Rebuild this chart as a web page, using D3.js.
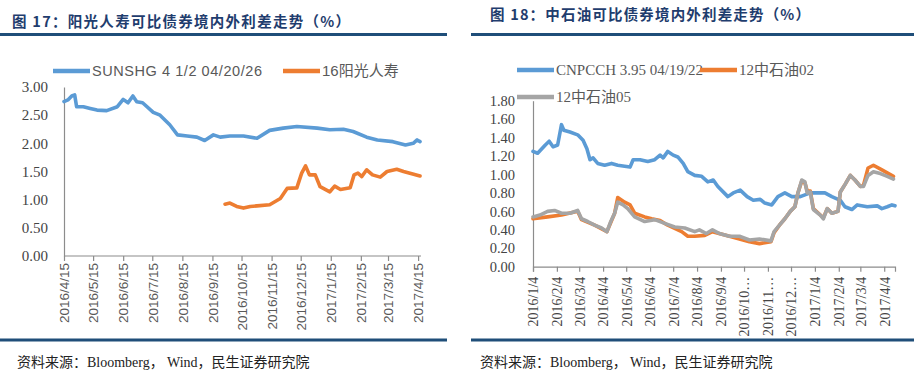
<!DOCTYPE html>
<html><head><meta charset="utf-8">
<script src="https://cdn.jsdelivr.net/npm/d3@7"></script>
<style>
html,body{margin:0;padding:0;background:#fff;}
svg{display:block;}
</style></head>
<body>
<svg id="c" width="914" height="375"></svg>
<script>
// ---------- Data: left chart (图17) ----------
const titleL = "图 17：阳光人寿可比债券境内外利差走势（%）";
const titleR = "图 18：中石油可比债券境内外利差走势（%）";
const sourceText = "资料来源：Bloomberg， Wind，民生证券研究院";

const yTicksL = [0, 0.5, 1, 1.5, 2, 2.5, 3];
const xLabelsL = ["2016/4/15","2016/5/15","2016/6/15","2016/7/15","2016/8/15","2016/9/15","2016/10/15","2016/11/15","2016/12/15","2017/1/15","2017/2/15","2017/3/15","2017/4/15"];
const seriesNamesL = ["SUNSHG 4 1/2 04/20/26", "16阳光人寿"];

const sunshg = [
 ["2016-04-15",2.74],["2016-04-19",2.77],["2016-04-23",2.84],["2016-04-26",2.86],["2016-04-28",2.65],
 ["2016-05-05",2.65],["2016-05-12",2.62],["2016-05-19",2.59],["2016-05-29",2.58],["2016-06-09",2.65],
 ["2016-06-15",2.78],["2016-06-20",2.72],["2016-06-25",2.84],["2016-06-29",2.74],["2016-07-05",2.72],
 ["2016-07-16",2.55],["2016-07-23",2.50],["2016-08-02",2.33],["2016-08-10",2.15],["2016-08-20",2.13],
 ["2016-08-30",2.11],["2016-09-07",2.05],["2016-09-16",2.15],["2016-09-23",2.11],["2016-10-03",2.13],
 ["2016-10-17",2.13],["2016-10-31",2.09],["2016-11-13",2.23],["2016-11-27",2.27],["2016-12-11",2.30],
 ["2017-01-01",2.27],["2017-01-14",2.24],["2017-01-28",2.25],["2017-02-07",2.21],["2017-02-21",2.11],
 ["2017-03-04",2.06],["2017-03-20",2.03],["2017-04-02",1.97],["2017-04-10",2.00],["2017-04-14",2.06],
 ["2017-04-17",2.03]
];
const sunlife16 = [
 ["2016-09-28",0.92],["2016-10-03",0.94],["2016-10-10",0.88],["2016-10-17",0.85],["2016-10-24",0.88],
 ["2016-10-31",0.89],["2016-11-13",0.91],["2016-11-24",1.02],["2016-12-01",1.20],["2016-12-11",1.21],
 ["2016-12-16",1.47],["2016-12-20",1.60],["2016-12-24",1.44],["2016-12-30",1.44],["2017-01-04",1.23],
 ["2017-01-14",1.14],["2017-01-19",1.24],["2017-01-25",1.18],["2017-02-04",1.21],["2017-02-08",1.44],
 ["2017-02-12",1.47],["2017-02-16",1.41],["2017-02-21",1.53],["2017-02-27",1.44],["2017-03-07",1.40],
 ["2017-03-14",1.50],["2017-03-24",1.54],["2017-03-31",1.50],["2017-04-17",1.42]
];

// ---------- Data: right chart (图18) ----------
const yTicksR = [0, 0.2, 0.4, 0.6, 0.8, 1.0, 1.2, 1.4, 1.6, 1.8];
const xTickDatesR = ["2016-01-04","2016-02-04","2016-03-04","2016-04-04","2016-05-04","2016-06-04","2016-07-04","2016-08-04","2016-09-04","2016-10-04","2016-11-04","2016-12-04","2017-01-04","2017-02-04","2017-03-04","2017-04-04"];
const xLabelsR = ["2016/1/4","2016/2/4","2016/3/4","2016/4/4","2016/5/4","2016/6/4","2016/7/4","2016/8/4","2016/9/4","2016/10…","2016/11…","2016/12…","2017/1/4","2017/2/4","2017/3/4","2017/4/4"];
const seriesNamesR = ["CNPCCH 3.95 04/19/22", "12中石油02", "12中石油05"];

const cnpcch = [
 ["2016-01-04",1.25],["2016-01-10",1.23],["2016-01-20",1.32],["2016-01-25",1.36],["2016-01-30",1.30],
 ["2016-02-05",1.32],["2016-02-10",1.54],["2016-02-13",1.48],["2016-02-21",1.46],["2016-03-02",1.43],
 ["2016-03-09",1.37],["2016-03-14",1.28],["2016-03-18",1.16],["2016-03-22",1.18],["2016-03-28",1.12],
 ["2016-04-06",1.10],["2016-04-15",1.12],["2016-04-23",1.10],["2016-05-02",1.09],["2016-05-09",1.08],
 ["2016-05-13",1.16],["2016-05-22",1.16],["2016-06-01",1.14],["2016-06-10",1.16],["2016-06-17",1.21],
 ["2016-06-21",1.18],["2016-06-27",1.25],["2016-07-04",1.21],["2016-07-10",1.19],["2016-07-17",1.12],
 ["2016-07-23",1.03],["2016-08-01",0.99],["2016-08-10",0.98],["2016-08-18",0.92],["2016-08-25",0.94],
 ["2016-08-31",0.87],["2016-09-13",0.76],["2016-09-20",0.80],["2016-09-29",0.83],["2016-10-08",0.76],
 ["2016-10-16",0.72],["2016-10-25",0.73],["2016-10-31",0.69],["2016-11-09",0.67],["2016-11-17",0.76],
 ["2016-11-26",0.80],["2016-12-05",0.76],["2016-12-16",0.76],["2016-12-29",0.80],["2017-01-08",0.80],
 ["2017-01-17",0.80],["2017-01-26",0.76],["2017-02-06",0.72],["2017-02-12",0.65],["2017-02-21",0.62],
 ["2017-02-28",0.67],["2017-03-13",0.65],["2017-03-26",0.66],["2017-04-01",0.63],["2017-04-08",0.65],
 ["2017-04-14",0.67],["2017-04-18",0.66]
];
const cnpc02 = [
 ["2016-01-04",0.52],["2016-01-23",0.54],["2016-02-10",0.56],["2016-03-02",0.60],["2016-03-07",0.51],
 ["2016-03-24",0.45],["2016-04-09",0.38],["2016-04-19",0.58],["2016-04-23",0.75],["2016-05-02",0.70],
 ["2016-05-09",0.67],["2016-05-15",0.58],["2016-05-28",0.54],["2016-06-06",0.52],["2016-06-17",0.50],
 ["2016-06-27",0.45],["2016-07-15",0.38],["2016-07-23",0.33],["2016-08-01",0.33],["2016-08-14",0.34],
 ["2016-08-24",0.38],["2016-09-15",0.33],["2016-10-11",0.27],["2016-10-24",0.25],["2016-11-08",0.27],
 ["2016-11-12",0.37],["2016-11-19",0.45],["2016-11-26",0.52],["2016-12-03",0.60],["2016-12-09",0.65],
 ["2016-12-13",0.80],["2016-12-18",0.93],["2016-12-22",0.91],["2016-12-25",0.82],["2016-12-29",0.82],
 ["2017-01-02",0.63],["2017-01-11",0.56],["2017-01-15",0.53],["2017-01-20",0.63],["2017-01-26",0.58],
 ["2017-02-03",0.60],["2017-02-06",0.81],["2017-02-12",0.89],["2017-02-19",0.99],["2017-02-25",0.94],
 ["2017-03-04",0.87],["2017-03-08",0.88],["2017-03-14",1.07],["2017-03-21",1.10],["2017-04-01",1.05],
 ["2017-04-16",0.98]
];
const cnpc05 = [
 ["2016-01-04",0.54],["2016-01-13",0.56],["2016-01-23",0.60],["2016-02-01",0.61],["2016-02-10",0.58],
 ["2016-02-21",0.58],["2016-03-02",0.61],["2016-03-07",0.52],["2016-03-15",0.49],["2016-03-24",0.45],
 ["2016-04-02",0.42],["2016-04-09",0.38],["2016-04-14",0.49],["2016-04-19",0.58],["2016-04-23",0.70],
 ["2016-04-30",0.67],["2016-05-06",0.63],["2016-05-15",0.54],["2016-05-28",0.49],["2016-06-10",0.51],
 ["2016-06-23",0.47],["2016-07-06",0.43],["2016-07-19",0.42],["2016-08-01",0.38],["2016-08-07",0.40],
 ["2016-08-16",0.36],["2016-08-24",0.40],["2016-09-02",0.36],["2016-09-15",0.33],["2016-09-28",0.33],
 ["2016-10-11",0.29],["2016-10-24",0.30],["2016-11-08",0.28],["2016-11-12",0.38],["2016-11-19",0.45],
 ["2016-11-26",0.52],["2016-12-03",0.60],["2016-12-09",0.65],["2016-12-13",0.80],["2016-12-18",0.94],
 ["2016-12-22",0.92],["2016-12-25",0.80],["2016-12-29",0.81],["2017-01-02",0.62],["2017-01-11",0.56],
 ["2017-01-15",0.52],["2017-01-20",0.63],["2017-01-26",0.58],["2017-02-03",0.60],["2017-02-06",0.81],
 ["2017-02-12",0.89],["2017-02-19",0.99],["2017-02-25",0.94],["2017-03-04",0.87],["2017-03-08",0.87],
 ["2017-03-14",0.99],["2017-03-21",1.03],["2017-03-30",1.01],["2017-04-08",0.98],["2017-04-16",0.95]
];

// ---------- Drawing ----------
const parseISO = d3.timeParse("%Y-%m-%d");
const parseSlash = d3.timeParse("%Y/%m/%d");
const toPts = arr => arr.map(([d, v]) => ({date: parseISO(d), v}));

const BLUE = "#5b9bd5", ORANGE = "#ed7d31", GREY = "#a5a5a5";
const NAVY = "#1f4e79", TITLE = "#1f3d6e", AXIS = "#8c8c8c", TXT = "#595959";
const SERIF = "'Liberation Serif','Times New Roman',serif";
const SANS = "'Liberation Sans',Arial,sans-serif";
const CJK = "'Noto Sans CJK SC'";

const svg = d3.select("#c");
svg.append("rect").attr("width", 914).attr("height", 375).attr("fill", "#fff");

// Titles and rules
svg.append("text").attr("x", 12).attr("y", 27).text(titleL)
  .attr("font-family", CJK).attr("font-weight", "bold").attr("font-size", 14.5)
  .attr("fill", TITLE).attr("textLength", 338).attr("lengthAdjust", "spacing");
svg.append("text").attr("x", 490).attr("y", 20).text(titleR)
  .attr("font-family", CJK).attr("font-weight", "bold").attr("font-size", 14.5)
  .attr("fill", TITLE).attr("textLength", 320).attr("lengthAdjust", "spacing");
[[0, 447, 34.5], [471, 914, 34.5], [0, 447, 340], [471, 914, 340]].forEach(([x1, x2, y]) =>
  svg.append("line").attr("x1", x1).attr("x2", x2).attr("y1", y).attr("y2", y)
    .attr("stroke", NAVY).attr("stroke-width", 3));
[[17, 367], [480, 367]].forEach(([x, y]) =>
  svg.append("text").attr("x", x).attr("y", y).text(sourceText)
    .attr("font-family", SERIF + "," + CJK).attr("font-size", 14).attr("fill", "#222"));

function styleAxis(g, font, size) {
  g.selectAll(".domain").attr("stroke", AXIS).attr("stroke-width", 1.2);
  g.selectAll(".tick line").attr("stroke", AXIS).attr("stroke-width", 1.2);
  g.selectAll("text").attr("font-family", font).attr("font-size", size).attr("fill", TXT);
}

function drawLine(data, x, y, color) {
  svg.append("path").datum(toPts(data))
    .attr("d", d3.line().x(d => x(d.date)).y(d => y(d.v)))
    .attr("fill", "none").attr("stroke", color).attr("stroke-width", 3.6)
    .attr("stroke-linejoin", "round").attr("stroke-linecap", "round");
}

function legendItem(x, y, color, label, font, size, len) {
  svg.append("line").attr("x1", x).attr("x2", x + 37).attr("y1", y).attr("y2", y)
    .attr("stroke", color).attr("stroke-width", 4.5);
  const t = svg.append("text").attr("x", x + 39).attr("y", y + 5).text(label)
    .attr("font-family", font).attr("font-size", size).attr("fill", TXT);
  if (len) t.attr("textLength", len).attr("lengthAdjust", "spacing");
}

// ---- Left chart ----
const xL = d3.scaleTime().domain([parseISO("2016-04-15"), parseISO("2017-04-18")]).range([64, 421]);
const yL = d3.scaleLinear().domain([0, 3]).range([256, 87]);

const gyL = svg.append("g").attr("transform", "translate(64,0)")
  .call(d3.axisLeft(yL).tickValues(yTicksL).tickSize(0).tickPadding(16).tickFormat(d3.format(".2f")));
styleAxis(gyL, SERIF, 15);
gyL.selectAll("text").attr("fill", "#444");

const gxL = svg.append("g").attr("transform", "translate(0,256)")
  .call(d3.axisBottom(xL).tickValues(xLabelsL.map(s => parseSlash(s))).tickSize(5)
    .tickFormat((d, i) => xLabelsL[i]));
styleAxis(gxL, SANS, 13.5);
gxL.select(".domain").attr("d", "M64,0H421");
gxL.selectAll("text").attr("transform", "rotate(-90)").attr("text-anchor", "end")
  .attr("x", -7).attr("y", 0).attr("dy", "0.35em");

drawLine(sunshg, xL, yL, BLUE);
drawLine(sunlife16, xL, yL, ORANGE);

legendItem(53, 71, BLUE, seriesNamesL[0], SANS, 14.5, 170);
legendItem(283, 71, ORANGE, seriesNamesL[1], SANS + "," + CJK, 15, null);

// ---- Right chart ----
const xR = d3.scaleTime().domain([parseISO("2016-01-04"), parseISO("2017-04-18")]).range([533, 895]);
const yR = d3.scaleLinear().domain([0, 1.8]).range([266.7, 100.7]);

const gyR = svg.append("g").attr("transform", "translate(533,0)")
  .call(d3.axisLeft(yR).tickValues(yTicksR).tickSize(0).tickPadding(18).tickFormat(d3.format(".2f")));
styleAxis(gyR, SERIF, 14.5);
gyR.selectAll("text").attr("fill", "#444");

const gxR = svg.append("g").attr("transform", "translate(0,266.7)")
  .call(d3.axisBottom(xR).tickValues(xTickDatesR.map(parseISO)).tickSize(5)
    .tickFormat((d, i) => xLabelsR[i]));
styleAxis(gxR, SERIF, 14);
gxR.selectAll("text").attr("transform", "rotate(-90)").attr("text-anchor", "end")
  .attr("x", -10).attr("y", 0).attr("dy", "0.35em").attr("fill", "#444");

drawLine(cnpcch, xR, yR, BLUE);
drawLine(cnpc02, xR, yR, ORANGE);
drawLine(cnpc05, xR, yR, GREY);

legendItem(517, 70, BLUE, seriesNamesR[0], SERIF, 15, null);
legendItem(700, 70, ORANGE, seriesNamesR[1], SERIF + "," + CJK, 15, null);
legendItem(517, 97, GREY, seriesNamesR[2], SERIF + "," + CJK, 15, null);
</script>
</body></html>
